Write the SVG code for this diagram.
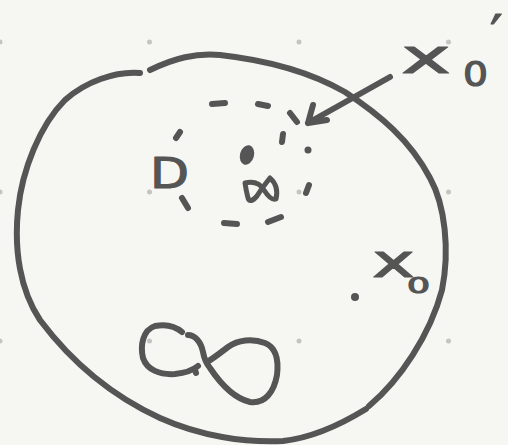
<svg xmlns="http://www.w3.org/2000/svg" width="508" height="445" viewBox="0 0 508 445">
<style>
.ink{fill:none;stroke:#555;stroke-width:6;stroke-linecap:round;stroke-linejoin:round}
.dash{fill:none;stroke:#555;stroke-width:6;stroke-linecap:round}
.grid{fill:#c4c4c0}
.lbl{font-family:"DejaVu Sans","Liberation Sans",sans-serif;fill:#555;stroke:#555;stroke-width:1.2;stroke-linejoin:round}
</style>
<rect width="508" height="445" fill="#f6f7f2"/>
<g id="grid">
<circle class="grid" cx="0" cy="42" r="2.5"/><circle class="grid" cx="149.5" cy="42" r="2.5"/><circle class="grid" cx="299" cy="42" r="2.5"/><circle class="grid" cx="448.5" cy="42" r="2.5"/>
<circle class="grid" cx="0" cy="192" r="2.5"/><circle class="grid" cx="149.5" cy="192" r="2.5"/><circle class="grid" cx="299" cy="192" r="2.5"/><circle class="grid" cx="448.5" cy="192" r="2.5"/>
<circle class="grid" cx="0" cy="341" r="2.5"/><circle class="grid" cx="149.5" cy="341" r="2.5"/><circle class="grid" cx="299" cy="341" r="2.5"/><circle class="grid" cx="448.5" cy="341" r="2.5"/>
</g>
<g id="outer-region">
<path class="ink" d="M140,73 C115,71 85,82 65,100 C40,125 22,170 18,210 C14,250 20,290 40,320 C70,360 110,395 160,418 C200,436 245,443 283,441 C310,438 340,425 366,409"/>
<path class="ink" d="M369,406 C400,380 430,335 442,290 C450,250 445,205 430,178 C410,140 380,115 345,92 C310,72 265,60 220,55 C195,53 175,58 150,70"/>
</g>
<g id="neighbourhood">
<path class="dash" d="M212,104 L225,103 M258,104 L268,106 M290,113 L297,122 M283,134 L282,142 M309,185 L306,193 M268,222 L281,217 M224,223 L237,224 M182,198 L188,208 M176,138 L180,132"/>
<circle cx="308" cy="150" r="3.5" fill="#555"/>
<ellipse cx="247" cy="155" rx="7" ry="10" transform="rotate(15 247 155)" fill="#555"/>
<path class="ink" d="M245,183 Q258,180 264,190 Q271,201 276,199 Q279,186 270,178 Q262,188 257,196 Q250,204 248,198 Q246,190 245,183 Z" style="stroke-width:5"/>
</g>
<g id="label-D">
<text class="lbl" x="150" y="188" font-size="43" textLength="39" lengthAdjust="spacingAndGlyphs">D</text>
</g>
<g id="loop">
<path class="ink" d="M182,332 C175,326 165,324 155,326 C143,330 140,345 143,358 C147,370 160,375 175,374 C185,373 192,371 198,366"/>
<path class="ink" d="M195,370 L196,373"/>
<path class="ink" d="M188,335 C195,335 201,342 203,352 C204,358 206,363 210,368 C220,383 233,398 250,402 C265,404 274,392 277,375 C279,358 275,347 265,343 C252,338 238,340 228,347 C220,353 214,358 207,362"/>
</g>
<g id="label-x0prime">
<text class="lbl" font-size="48"><tspan x="401" y="73" textLength="50" lengthAdjust="spacingAndGlyphs">x</tspan><tspan x="463" y="86" font-size="33" textLength="25" lengthAdjust="spacingAndGlyphs">0</tspan><tspan x="490" y="54" font-size="56">′</tspan></text>
</g>
<g id="label-x0">
<text class="lbl" font-size="46"><tspan x="372" y="277" textLength="43" lengthAdjust="spacingAndGlyphs">x</tspan><tspan x="407" y="293" font-size="22" textLength="23" lengthAdjust="spacingAndGlyphs">0</tspan></text>
<circle cx="355" cy="297" r="4" fill="#555"/>
</g>
<g id="connectors">
<path class="ink" d="M390,77 L308,123 M313,105 L308,123 L327,120"/>
</g>
</svg>
